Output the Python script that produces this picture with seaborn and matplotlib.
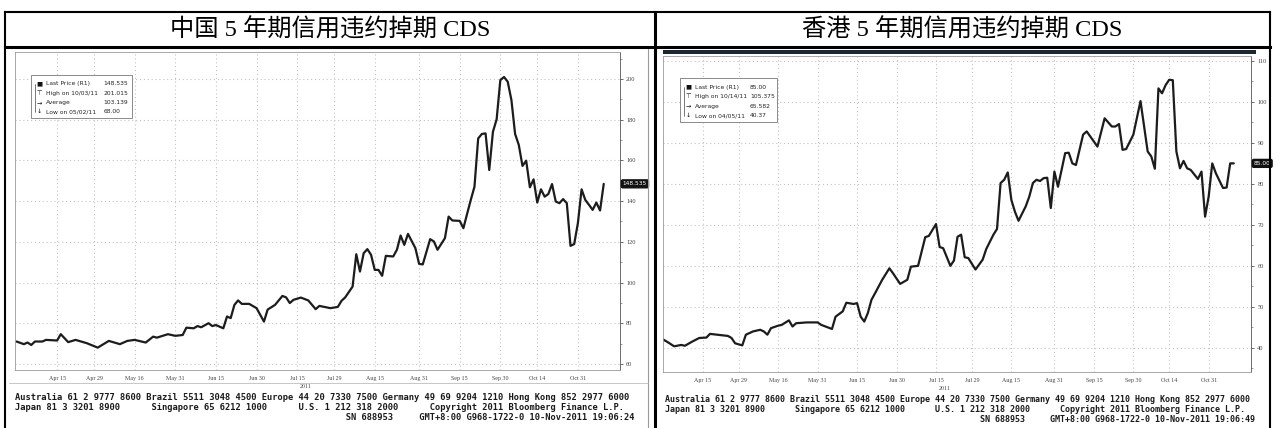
import numpy as np
import matplotlib
matplotlib.use('Agg')
import matplotlib.pyplot as plt
from matplotlib.lines import Line2D
from matplotlib.patches import Rectangle
from matplotlib.ticker import AutoMinorLocator
import seaborn as sns

W, H = 1276, 428

titles = ['中国 5 年期信用违约掉期 CDS', '香港 5 年期信用违约掉期 CDS']

# China 5Y CDS (2011)
cn_dates = ['03-31', '04-04', '04-05', '04-06', '04-07', '04-11', '04-12', '04-15', '04-18', '04-20',
            '04-22', '04-27', '05-02', '05-05', '05-10', '05-12', '05-16', '05-19', '05-23', '05-24',
            '05-27', '05-31', '06-02', '06-03', '06-07', '06-08', '06-09', '06-13', '06-14', '06-15',
            '06-17', '06-20', '06-21', '06-22', '06-23', '06-24', '06-28', '06-30', '07-04', '07-05',
            '07-07', '07-11', '07-12', '07-13', '07-14', '07-18', '07-20', '07-22', '07-25', '07-28',
            '08-01', '08-02', '08-03', '08-05', '08-08', '08-09', '08-10', '08-11', '08-12', '08-15',
            '08-16', '08-17', '08-18', '08-22', '08-23', '08-24', '08-25', '08-26', '08-30', '08-31',
            '09-01', '09-05', '09-06', '09-07', '09-09', '09-12', '09-13', '09-15', '09-16', '09-19',
            '09-20', '09-21', '09-22', '09-23', '09-26', '09-27', '09-28', '09-29', '09-30', '10-03',
            '10-04', '10-05', '10-06', '10-07', '10-10', '10-11', '10-12', '10-13', '10-14', '10-17',
            '10-18', '10-19', '10-20', '10-21', '10-24', '10-25', '10-26', '10-27', '10-28', '10-31',
            '11-01', '11-02', '11-03', '11-04', '11-07', '11-08', '11-09']
cn_values = [71.0, 69.7, 70.5, 69.3, 71.0, 71.0, 71.8, 71.5, 74.6, 70.7,
             71.8, 70.2, 68.0, 71.3, 69.7, 71.3, 71.8, 70.5, 73.4, 72.9,
             74.6, 73.8, 74.2, 77.8, 77.5, 78.6, 78.0, 80.0, 78.6, 79.1,
             77.5, 83.3, 82.5, 89.0, 91.2, 89.5, 89.5, 87.4, 80.8, 86.7,
             89.0, 93.4, 92.7, 89.9, 91.5, 92.6, 91.2, 86.9, 88.5, 87.4,
             88.0, 91.0, 92.7, 98.0, 113.9, 105.4, 114.4, 116.4, 113.6, 106.2,
             106.2, 103.3, 113.1, 112.8, 116.1, 123.1, 118.5, 123.9, 116.9, 109.2,
             108.9, 121.3, 120.2, 116.1, 121.8, 132.4, 130.5, 130.3, 126.7, 133.7,
             140.6, 147.1, 170.8, 173.0, 173.3, 155.3, 174.1, 180.2, 199.5, 201.0,
             198.7, 189.7, 173.0, 167.6, 157.3, 159.9, 146.8, 150.7, 139.3, 145.8,
             142.2, 143.5, 148.4, 139.8, 139.0, 141.0, 139.0, 118.0, 118.9, 129.2,
             145.8, 140.6, 138.2, 135.7, 139.3, 135.4, 148.5]

# Hong Kong 5Y CDS (2011)
hk_dates = ['03-31', '04-01', '04-05', '04-07', '04-08', '04-12', '04-14', '04-18', '04-19', '04-21',
            '04-26', '04-27', '04-28', '05-02', '05-03', '05-05', '05-09', '05-10', '05-11', '05-12',
            '05-16', '05-17', '05-19', '05-20', '05-23', '05-26', '05-31', '06-01', '06-06', '06-07',
            '06-09', '06-10', '06-14', '06-15', '06-16', '06-17', '06-20', '06-21', '06-22', '06-24',
            '06-28', '06-29', '07-01', '07-05', '07-06', '07-08', '07-12', '07-13', '07-15', '07-18',
            '07-19', '07-21', '07-22', '07-25', '07-26', '07-27', '07-28', '08-01', '08-03', '08-04',
            '08-08', '08-09', '08-10', '08-11', '08-12', '08-15', '08-16', '08-17', '08-19', '08-22',
            '08-23', '08-24', '08-25', '08-26', '08-29', '08-30', '08-31', '09-01', '09-05', '09-06',
            '09-07', '09-08', '09-12', '09-13', '09-16', '09-20', '09-22', '09-23', '09-26', '09-27',
            '09-28', '09-30', '10-04', '10-06', '10-07', '10-10', '10-11', '10-12', '10-13', '10-14',
            '10-17', '10-18', '10-19', '10-20', '10-21', '10-24', '10-26', '10-27', '10-28', '10-31',
            '11-01', '11-02', '11-04', '11-07', '11-08', '11-09']
hk_values = [42.0, 41.5, 40.37, 40.7, 40.5, 41.5, 42.4, 42.5, 43.4, 43.2,
             42.9, 42.4, 41.1, 40.6, 43.2, 44.0, 44.4, 44.0, 43.2, 44.8,
             45.4, 45.6, 46.7, 45.2, 46.0, 46.2, 46.2, 45.6, 44.6, 47.6,
             48.9, 51.0, 50.7, 50.9, 47.6, 46.4, 48.5, 51.7, 53.3, 56.6,
             59.4, 58.2, 55.6, 56.6, 59.8, 60.0, 67.0, 67.3, 70.2, 64.6,
             64.3, 60.0, 61.3, 67.1, 67.6, 62.1, 61.9, 59.1, 61.5, 64.1,
             67.6, 69.0, 80.2, 81.0, 82.8, 76.1, 73.2, 71.0, 74.5, 76.9,
             80.2, 81.0, 80.7, 81.4, 81.5, 74.1, 83.0, 79.3, 87.5, 87.6,
             85.0, 84.6, 92.0, 92.8, 89.1, 96.0, 94.0, 94.0, 94.6, 88.3,
             88.5, 92.0, 100.2, 87.9, 86.7, 83.7, 103.3, 102.1, 104.1, 105.4,
             105.3, 87.9, 83.8, 85.6, 83.8, 83.4, 81.2, 83.0, 72.0, 76.9,
             85.0, 82.6, 79.0, 79.1, 85.0, 85.0]

tick_dates = ['04-15', '04-29', '05-16', '05-31', '06-15', '06-30', '07-15', '07-29',
              '08-15', '08-31', '09-15', '09-30', '10-14', '10-31']
tick_labels = ['Apr 15', 'Apr 29', 'May 16', 'May 31', 'Jun 15', 'Jun 30', 'Jul 15', 'Jul 29',
               'Aug 15', 'Aug 31', 'Sep 15', 'Sep 30', 'Oct 14', 'Oct 31']

cn_yticks = [60, 80, 100, 120, 140, 160, 180, 200]
hk_yticks = [40, 50, 60, 70, 80, 90, 100, 110]

legend_names = ['Last Price (R1)', 'High on {}', 'Average', 'Low on {}']
cn_legend = ['148.535', '201.015', '103.139', '68.00']
cn_legend_dates = ['10/03/11', '05/02/11']
hk_legend = ['85.00', '105.375', '65.582', '40.37']
hk_legend_dates = ['10/14/11', '04/05/11']
cn_last, hk_last = '148.535', '85.00'

footer_1 = ('Australia 61 2 9777 8600 Brazil 5511 3048 4500 Europe 44 20 7330 7500 '
            'Germany 49 69 9204 1210 Hong Kong 852 2977 6000')
footer_2 = ('Japan 81 3 3201 8900'.ljust(26) + 'Singapore 65 6212 1000'.ljust(28)
            + 'U.S. 1 212 318 2000'.ljust(25) + 'Copyright 2011 Bloomberg Finance L.P.')
footer_times = ['19:06:24', '19:06:49']


def bpos(dates):
    full = ['2011-' + d for d in dates]
    return np.busday_count('2011-03-31', full)


def frac(x0, y0, x1, y1):
    return [x0 / W, 1 - y1 / H, (x1 - x0) / W, (y1 - y0) / H]


sns.set_style('white')
plt.rcParams['font.family'] = ['DejaVu Sans', 'Noto Sans CJK SC']

fig = plt.figure(figsize=(W / 100, H / 100), dpi=100)
fig.patch.set_facecolor('white')

panels = [
    dict(box=(15, 52, 620, 370), xlim=(-0.4, 163.4), ylim=(57.0, 213.3), dates=cn_dates,
         values=cn_values, yticks=cn_yticks, legend=cn_legend, ldates=cn_legend_dates,
         lbox=(31, 75, 132, 118), last=cn_last, last_val=cn_values[-1], title_x=330,
         foot_x=15, foot_fs=6.35, time=footer_times[0]),
    dict(box=(663, 56, 1251, 372), xlim=(-0.1, 163.8), ylim=(34.1, 111.2), dates=hk_dates,
         values=hk_values, yticks=hk_yticks, legend=hk_legend, ldates=hk_legend_dates,
         lbox=(680, 78, 777, 122), last=hk_last, last_val=hk_values[-1], title_x=962,
         foot_x=665, foot_fs=6.05, time=footer_times[1]),
]

for n, p in enumerate(panels):
    x0, y0, x1, y1 = p['box']
    ax = fig.add_axes(frac(x0, y0, x1, y1))
    sns.lineplot(x=bpos(p['dates']), y=p['values'], ax=ax, color='#1c1c1c', linewidth=1.6)
    ax.set_xlim(*p['xlim'])
    ax.set_ylim(*p['ylim'])
    ax.set_xlabel('')
    ax.set_ylabel('')
    ax.set_xticks(bpos(tick_dates))
    ax.set_xticklabels(tick_labels, fontsize=4.3, color='#444444', family='Liberation Serif')
    ax.yaxis.tick_right()
    ax.set_yticks(p['yticks'])
    ax.set_yticklabels([str(v) for v in p['yticks']], fontsize=4.6, color='#444444',
                       family='Liberation Serif')
    ax.yaxis.set_minor_locator(AutoMinorLocator(2))
    ax.tick_params(axis='both', which='major', length=2.5, width=0.6, color='#555555', pad=2)
    ax.tick_params(axis='y', which='minor', length=1.5, width=0.5, color='#777777')
    ax.grid(True, color='#c4c4c4', linestyle=(0, (1, 2.5)), linewidth=0.8)
    for s in ax.spines.values():
        s.set_color('#9a9a9a')
        s.set_linewidth(0.6)
    ax.spines['right'].set_color('#555555')

    # year label
    cx = (x0 + x1) / 2 - 12
    fig.text(cx / W, 1 - (y1 + 17) / H, '2011', fontsize=4.3, color='#444444',
             family='Liberation Serif', ha='center', va='center')

    # last price tag
    ax.annotate(p['last'], xy=(1.0, p['last_val']), xycoords=('axes fraction', 'data'),
                xytext=(2, 0), textcoords='offset points', fontsize=4.2, color='white',
                ha='left', va='center',
                bbox=dict(boxstyle='round,pad=0.25', fc='#111111', ec='#111111'))

    # legend box
    lx0, ly0, lx1, ly1 = p['lbox']
    fig.patches.append(Rectangle((lx0 / W, 1 - ly1 / H), (lx1 - lx0) / W, (ly1 - ly0) / H,
                                 transform=fig.transFigure, fc='white', ec='#8a8a8a', lw=0.7,
                                 zorder=5))
    names = [legend_names[0], legend_names[1].format(p['ldates'][0]), legend_names[2],
             legend_names[3].format(p['ldates'][1])]
    icons = ['■', '⊤', '→', '↓']
    step = (ly1 - ly0) / 4.6
    for i, (nm, val, ic) in enumerate(zip(names, p['legend'], icons)):
        yy = ly0 + step * (0.95 + i)
        fig.text((lx0 + 8) / W, 1 - yy / H, ic, fontsize=4.6, ha='center', va='center',
                 color='#111111', zorder=6)
        fig.text((lx0 + 15) / W, 1 - yy / H, nm, fontsize=4.3, ha='left', va='center',
                 color='#222222', zorder=6)
        fig.text((lx0 + (lx1 - lx0) * 0.72) / W, 1 - yy / H, val, fontsize=4.3, ha='left',
                 va='center', color='#222222', zorder=6)
    fig.lines.append(Line2D([(lx0 + 4) / W, (lx0 + 4) / W],
                            [1 - (ly0 + step * 0.95) / H, 1 - (ly0 + step * 3.95) / H],
                            transform=fig.transFigure, color='#444444', lw=0.5, zorder=6))

    # footer
    fy = y1 + 27
    footer_3 = ' ' * 63 + 'SN 688953'.ljust(14) + 'GMT+8:00 G968-1722-0 10-Nov-2011 ' + p['time']
    for k, line in enumerate([footer_1, footer_2, footer_3]):
        fig.text(p['foot_x'] / W, 1 - (fy + k * 10) / H, line, fontsize=p['foot_fs'],
                 family='DejaVu Sans Mono', fontweight='bold', ha='left', va='center',
                 color='#1a1a1a')

    # title
    fig.text(p['title_x'] / W, 1 - 30 / H, titles[n], fontsize=17.5,
             family=['Liberation Serif', 'Noto Sans CJK SC'], ha='center', va='center',
             color='black')

# screenshot edges
fig.lines.append(Line2D([648 / W, 648 / W], [0, 1 - 49 / H], transform=fig.transFigure,
                        color='#9a9a9a', lw=0.8))
fig.lines.append(Line2D([9 / W, 648 / W], [1 - 383 / H, 1 - 383 / H], transform=fig.transFigure,
                        color='#b0b0b0', lw=0.5))
fig.patches.append(Rectangle((663 / W, 1 - 54 / H), (1256 - 663) / W, 4 / H,
                             transform=fig.transFigure, fc='#1d2733', ec='none'))


# table borders
def fline(xs, ys, lw):
    fig.lines.append(Line2D([x / W for x in xs], [1 - y / H for y in ys],
                            transform=fig.transFigure, color='black', lw=lw,
                            solid_capstyle='projecting'))


fline([5, 1270], [12, 12], 1.5)
fline([5, 1270], [47, 47], 2.2)
fline([5, 5], [12, 428], 1.5)
fline([655, 655], [12, 428], 2.2)
fline([1270, 1270], [12, 428], 1.5)

fig.savefig('out.png', dpi=100, facecolor='white')
